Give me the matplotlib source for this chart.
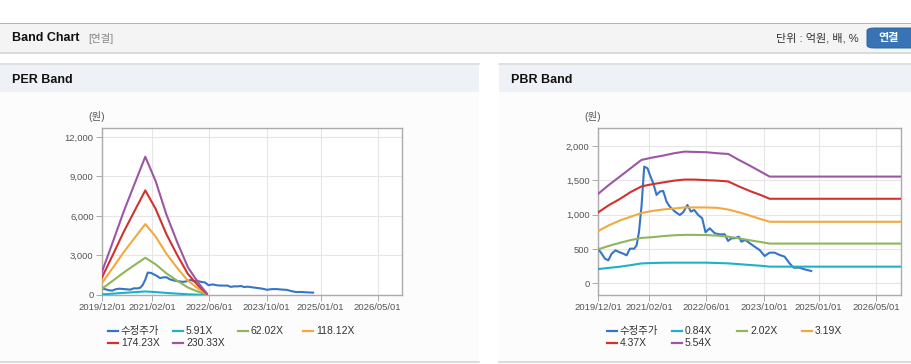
import matplotlib
matplotlib.use('Agg')
import matplotlib.pyplot as plt
import pandas as pd
from matplotlib.patches import Rectangle, FancyBboxPatch
from matplotlib.lines import Line2D

# ---- data ----
price_dates = ['2019-12-01', '2020-01-01', '2020-01-29', '2020-02-26', '2020-03-25', '2020-04-27',
               '2020-05-25', '2020-07-01', '2020-07-29', '2020-08-26', '2020-10-01', '2020-10-21',
               '2020-11-10', '2020-12-02', '2020-12-24', '2021-01-21', '2021-02-10', '2021-03-10',
               '2021-04-07', '2021-05-05', '2021-06-02', '2021-06-30', '2021-07-28', '2021-09-08',
               '2021-10-20', '2021-11-17', '2021-12-23', '2022-01-21', '2022-02-18', '2022-03-23',
               '2022-04-26', '2022-05-24', '2022-06-29', '2022-08-10', '2022-09-21', '2022-11-02',
               '2022-11-30', '2022-12-28', '2023-01-25', '2023-02-28', '2023-03-22', '2023-04-25',
               '2023-05-31', '2023-07-12', '2023-08-23', '2023-10-04', '2023-11-15', '2023-12-27',
               '2024-02-07', '2024-03-20', '2024-05-01', '2024-06-04', '2024-07-24', '2024-09-04',
               '2024-10-30']
price = [505, 432, 359, 335, 432, 481,
         457, 432, 408, 505, 505, 554,
         748, 1137, 1700, 1676, 1579, 1458,
         1288, 1337, 1346, 1190, 1117, 1045,
         996, 1035, 1142, 1045, 1069, 996,
         948, 744, 802, 729, 714, 714,
         617, 656, 656, 680, 607, 631,
         585, 534, 485, 398, 447, 447,
         413, 389, 291, 228, 228, 204,
         180]

per_dates = ['2019-12-01', '2020-03-01', '2020-06-01', '2020-09-01', '2020-12-03', '2021-03-01',
             '2021-06-01', '2021-09-01', '2021-12-01', '2022-03-01', '2022-05-10']
per_labels = ['5.91X', '62.02X', '118.12X', '174.23X', '230.33X']
per_591 = [45, 103, 162, 216, 269, 222, 157, 103, 54, 23, 3]
per_6202 = [477, 1077, 1697, 2262, 2828, 2329, 1643, 1077, 566, 242, 32]
per_11812 = [908, 2051, 3231, 4308, 5384, 4436, 3128, 2051, 1077, 462, 62]
per_17423 = [1339, 3026, 4765, 6354, 7942, 6543, 4614, 3026, 1588, 681, 91]
per_23033 = [1770, 4000, 6300, 8400, 10500, 8650, 6100, 4000, 2100, 900, 120]

pbr_dates = ['2019-12-01', '2020-03-01', '2020-06-01', '2020-09-01', '2020-12-01', '2021-03-01',
             '2021-06-01', '2021-09-01', '2021-12-01', '2022-03-01', '2022-06-01', '2022-09-01',
             '2022-12-01', '2023-03-01', '2023-06-01', '2023-09-01', '2023-11-15', '2026-12-31']
pbr_labels = ['0.84X', '2.02X', '3.19X', '4.37X', '5.54X']
pbr_084 = [208, 225, 242, 265, 290, 296, 300, 301, 301, 301, 301, 296, 291, 280, 267, 256, 243, 243]
pbr_202 = [495, 545, 590, 630, 662, 672, 688, 700, 706, 706, 703, 695, 680, 656, 627, 602, 579, 579]
pbr_319 = [760, 845, 915, 970, 1025, 1054, 1076, 1090, 1106, 1106, 1105, 1100, 1075, 1035, 987, 935, 897, 897]
pbr_437 = [1032, 1138, 1228, 1330, 1412, 1444, 1470, 1496, 1512, 1511, 1503, 1496, 1484, 1412, 1345, 1286, 1232, 1232]
pbr_554 = [1302, 1433, 1554, 1677, 1798, 1832, 1861, 1895, 1919, 1914, 1910, 1895, 1885, 1798, 1715, 1627, 1555, 1555]

xtick_labels = ['2019/12/01', '2021/02/01', '2022/06/01', '2023/10/01', '2025/01/01', '2026/05/01']

colors = ['#3575c6', '#1fb1c6', '#8fb65a', '#f2a93f', '#d1332c', '#9b57a4']

W, H = 912, 364
KR = ['Liberation Sans', 'Noto Sans CJK KR']


def fx(x):
    return x / W


def fy(y):
    return 1 - y / H


fig = plt.figure(figsize=(9.12, 3.64), dpi=100)
fig.patch.set_facecolor('white')


def rect(x0, y0, x1, y1, color, z=0):
    fig.add_artist(Rectangle((fx(x0), fy(y1)), (x1 - x0) / W, (y1 - y0) / H,
                             transform=fig.transFigure, facecolor=color,
                             edgecolor='none', zorder=z))


def hline(x0, x1, y, color, lw=1.0):
    fig.add_artist(Line2D([fx(x0), fx(x1)], [fy(y), fy(y)], transform=fig.transFigure,
                          color=color, lw=lw * 0.72))


# top header bar
hline(0, W, 22.5, '#b4b4b4')
rect(0, 23, W, 52, '#f4f4f4')
hline(0, W, 53, '#cfcfcf', 1.5)
fig.text(fx(12), fy(38), 'Band Chart', family=KR, fontsize=9, fontweight='bold',
         color='#111111', va='center')
fig.text(fx(88), fy(38), '[연결]', family=KR, fontsize=7.5, color='#888888', va='center')
fig.text(fx(859), fy(38), '단위 : 억원, 배, %', family=KR, fontsize=8, color='#333333',
         va='center', ha='right')
fig.add_artist(FancyBboxPatch((fx(867), fy(48)), (W + 6 - 867) / W, 20 / H,
                              boxstyle='round,pad=0,rounding_size=0.008',
                              transform=fig.transFigure, facecolor='#3773b5',
                              edgecolor='#2d62a0', lw=0.7))
fig.text(fx(889), fy(38), '연결', family=KR, fontsize=8, fontweight='bold', color='white',
         va='center', ha='center')

# panels
for x0, x1, title in [(0, 479, 'PER Band'), (499, W, 'PBR Band')]:
    rect(x0, 92, x1, 361, '#fcfcfc')
    hline(x0, x1, 64, '#d6d6d6', 1.5)
    rect(x0, 65, x1, 92, '#eef2f7')
    hline(x0, x1, 362, '#d0d0d0', 1.5)
    fig.text(fx(x0 + 12), fy(80), title, family=KR, fontsize=9, fontweight='bold',
             color='#111111', va='center')


def draw(box, band_dates, bands, labels, ylim, yticks, leg_x):
    x0, y0, x1, y1 = box
    ax = fig.add_axes([fx(x0), fy(y1), (x1 - x0) / W, (y1 - y0) / H])
    ax.set_facecolor('white')
    ax.plot(pd.to_datetime(price_dates), price, color=colors[0], lw=1.5, zorder=3)
    bd = pd.to_datetime(band_dates)
    for vals, c in zip(bands, colors[1:]):
        ax.plot(bd, vals, color=c, lw=1.5, zorder=3)
    ax.set_xlim(pd.Timestamp('2019-12-01'), pd.Timestamp('2026-11-25'))
    ax.set_ylim(*ylim)
    ax.set_xticks(pd.to_datetime([s.replace('/', '-') for s in xtick_labels]))
    ax.set_xticklabels(xtick_labels)
    ax.set_yticks(yticks)
    ax.set_yticklabels([f'{v:,}' for v in yticks])
    ax.grid(True, color='#e6e6e6', lw=0.8)
    ax.set_axisbelow(True)
    for s in ax.spines.values():
        s.set_color('#ababab')
        s.set_linewidth(1.0)
    ax.tick_params(length=4, width=0.7, color='#ababab', labelsize=6.8,
                   labelcolor='#555555', pad=2)
    for t in ax.get_xticklabels() + ax.get_yticklabels():
        t.set_family('Liberation Sans')
    fig.text(fx(x0 - 5), fy(117), '(원)', family=KR, fontsize=7.5, color='#555555',
             ha='center', va='center')
    # legend
    names = ['수정주가'] + labels
    for i, (name, c) in enumerate(zip(names, colors)):
        lx = leg_x + 65 * (i % 4)
        ly = 331 if i < 4 else 343
        fig.add_artist(Line2D([fx(lx), fx(lx + 10)], [fy(ly), fy(ly)], transform=fig.transFigure,
                              color=c, lw=1.6))
        fig.text(fx(lx + 13), fy(ly), name, family=KR, fontsize=7.5, color='#333333',
                 va='center')
    return ax


draw((102, 128, 402, 295), per_dates, [per_591, per_6202, per_11812, per_17423, per_23033],
     per_labels, (0, 12680), [0, 3000, 6000, 9000, 12000], 108)
draw((598, 128, 901, 295), pbr_dates, [pbr_084, pbr_202, pbr_319, pbr_437, pbr_554],
     pbr_labels, (-170, 2263), [0, 500, 1000, 1500, 2000], 607)

fig.savefig('out.png', dpi=100, facecolor='white')
